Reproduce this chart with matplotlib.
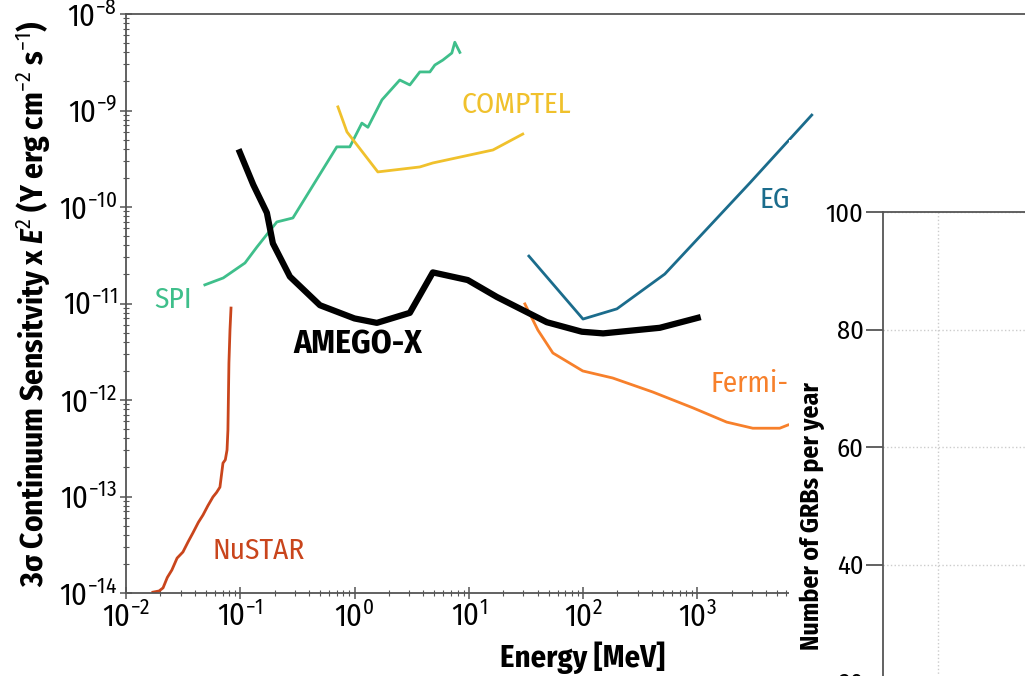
import matplotlib
matplotlib.use("Agg")
import matplotlib.pyplot as plt
from matplotlib import font_manager as fm
from matplotlib.patches import Rectangle

# narrow sans close to the condensed face of the original
avail = {f.name for f in fm.fontManager.ttflist}
font = 'DejaVu Sans'
for cand in ['Fira Sans Condensed', 'PT Sans Narrow', 'Roboto Condensed', 'Encode Sans Condensed',
             'Saira SemiCondensed', 'Liberation Sans Narrow']:
    if cand in avail:
        font = cand
        break

plt.rcParams['font.family'] = [font, 'DejaVu Sans']
plt.rcParams['mathtext.fontset'] = 'custom'
plt.rcParams['mathtext.rm'] = font
plt.rcParams['mathtext.it'] = font + ':italic'
plt.rcParams['mathtext.bf'] = font + ':bold:italic'
plt.rcParams['axes.unicode_minus'] = False

# sensitivity curves: energy [MeV], E^2 x sensitivity [erg cm^-2 s^-1]
amego_e = [0.099, 0.13, 0.171, 0.193, 0.272, 0.498, 1.0, 1.57, 3.05, 4.85, 9.8, 17.6, 48.2, 97.7, 150, 470, 1009]
amego_s = [3.7e-10, 1.7e-10, 8.7e-11, 4.2e-11, 1.9e-11, 9.6e-12, 7.0e-12, 6.3e-12, 8.0e-12, 2.1e-11,
           1.75e-11, 1.17e-11, 6.4e-12, 5.1e-12, 4.9e-12, 5.6e-12, 7.1e-12]

spi_e = [0.049, 0.071, 0.110, 0.140, 0.209, 0.289, 0.70, 0.91, 1.16, 1.31, 1.74, 2.49, 3.05, 3.73,
         4.57, 5.05, 5.93, 7.11, 7.55, 8.36]
spi_s = [1.56e-11, 1.84e-11, 2.63e-11, 3.85e-11, 7.0e-11, 7.7e-11, 4.2e-10, 4.2e-10, 7.4e-10,
         6.7e-10, 1.29e-9, 2.07e-9, 1.84e-9, 2.51e-9, 2.51e-9, 2.96e-9, 3.33e-9, 3.94e-9, 5.1e-9, 4.0e-9]

comptel_e = [0.716, 0.859, 1.60, 3.73, 4.85, 16.3, 29.7]
comptel_s = [1.09e-9, 6.0e-10, 2.31e-10, 2.6e-10, 2.86e-10, 3.9e-10, 5.7e-10]

eg_e = [33.6, 100, 198, 520, 2880, 10050]
eg_s = [3.1e-11, 6.9e-12, 8.8e-12, 2.02e-11, 1.77e-10, 8.97e-10]

fermi_e = [31.0, 40.3, 54.5, 99.5, 182, 408, 914, 1811, 3062, 5272, 6194, 8000]
fermi_s = [9.9e-12, 5.3e-12, 3.07e-12, 2.0e-12, 1.69e-12, 1.21e-12, 8.3e-13, 5.9e-13, 5.1e-13,
           5.1e-13, 5.5e-13, 6.0e-13]

nustar_e = [0.0172, 0.0195, 0.0211, 0.0230, 0.0252, 0.0280, 0.0315, 0.0350, 0.0385, 0.0430, 0.0472,
            0.0520, 0.0577, 0.0620, 0.0664, 0.0706, 0.0740, 0.0766, 0.0780, 0.0796, 0.0813, 0.0830]
nustar_s = [1.02e-14, 1.05e-14, 1.13e-14, 1.45e-14, 1.73e-14, 2.3e-14, 2.66e-14, 3.4e-14, 4.19e-14,
            5.4e-14, 6.43e-14, 8.0e-14, 9.9e-14, 1.1e-13, 1.25e-13, 2.22e-13, 2.4e-13, 3.03e-13,
            4.89e-13, 2.42e-12, 5.3e-12, 8.97e-12]

# second panel (GRB rates), only the axes frame is visible
grb_yticks = [20, 40, 60, 80, 100]
grb_xticks = [1]

fig = plt.figure(figsize=(10.25, 6.76), dpi=100)
ax = fig.add_axes([126 / 1025, 83 / 676, 914 / 1025, 579 / 676])

ax.plot(spi_e, spi_s, color='#3fbf8b', lw=2)
ax.plot(comptel_e, comptel_s, color='#f0c12c', lw=2)
ax.plot(eg_e, eg_s, color='#1b6c8c', lw=2)
ax.plot(fermi_e, fermi_s, color='#f7802b', lw=2)
ax.plot(nustar_e, nustar_s, color='#c9451c', lw=2)
ax.plot(amego_e, amego_s, color='black', lw=4.5)

ax.set_xscale('log')
ax.set_yscale('log')
ax.set_xlim(1e-2, 1e6)
ax.set_ylim(1e-14, 1e-8)
ax.spines['right'].set_visible(False)
for s in ax.spines.values():
    s.set_color('#555555')
    s.set_linewidth(1.3)
ax.tick_params(which='major', direction='inout', length=9, width=1.1, color='#555555',
               labelsize=22, pad=2)
ax.tick_params(which='minor', direction='inout', length=5, width=0.8, color='#555555')

ax.set_xlabel('Energy [MeV]', fontsize=22, fontweight='bold', labelpad=6)
ax.set_ylabel(r'3σ Continuum Sensitvity x $\mathbf{E}^2$ (Y erg cm$^{-2}$ s$^{-1}$)',
              fontsize=22.5, fontweight='bold', labelpad=4)

ax.text(0.026, 1.09e-11, 'SPI', color='#3fbf8b', fontsize=21, ha='center', va='center')
ax.text(26, 1.14e-9, 'COMPTEL', color='#f0c12c', fontsize=21, ha='center', va='center')
ax.text(4770, 1.18e-10, 'EG', color='#1b6c8c', fontsize=21, ha='center', va='center')
ax.text(1312, 1.47e-12, 'Fermi-LAT', color='#f7802b', fontsize=21, ha='left', va='center')
ax.text(0.146, 2.72e-14, 'NuSTAR', color='#c9451c', fontsize=21, ha='center', va='center')
ax.text(1.07, 3.7e-12, 'AMEGO-X', color='black', fontsize=24, fontweight='bold',
        ha='center', va='center')

# white area of the pasted second panel
fig.add_artist(Rectangle((789 / 1025, 0), 236 / 1025, 536 / 676, transform=fig.transFigure,
                         facecolor='white', edgecolor='none', zorder=1))

ax2 = fig.add_axes([883 / 1025, -123.5 / 676, 275 / 1025, 587.5 / 676], zorder=2)
ax2.set_ylim(0, 100)
ax2.set_xlim(0, 5)
ax2.set_yticks(grb_yticks)
ax2.set_xticks(grb_xticks)
ax2.grid(True, ls=':', color='#cccccc', lw=1.0)
for s in ax2.spines.values():
    s.set_color('#555555')
    s.set_linewidth(1.3)
ax2.tick_params(axis='y', length=12, width=1.3, color='#555555', labelsize=19, pad=2)
ax2.tick_params(axis='x', labelbottom=False, length=0)

fig.text(812 / 1025, 1 - 516 / 676, 'Number of GRBs per year', rotation=90, fontsize=18.5,
         fontweight='bold', ha='center', va='center', zorder=3)

fig.savefig('out.png', dpi=100)
